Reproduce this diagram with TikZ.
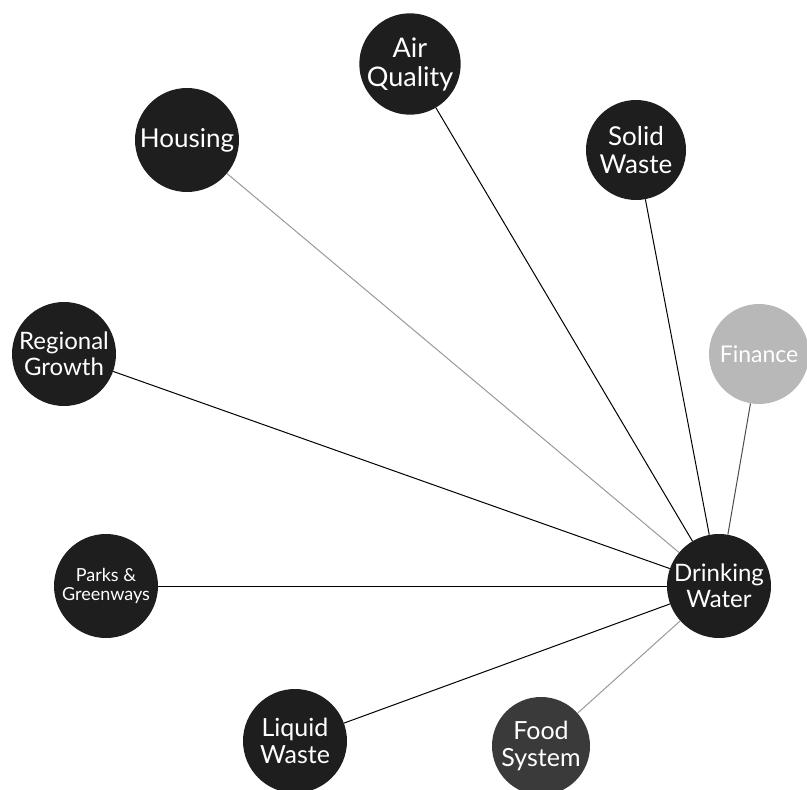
\documentclass[tikz,border=0pt]{standalone}
\usepackage{fontspec}
\setmainfont{Lato}
\usepackage{tikz}
\usetikzlibrary{shapes.geometric, arrows}
\definecolor{disc}{HTML}{1E1E1E}
\definecolor{discpale}{HTML}{B8B8B8}
\definecolor{discgrey}{HTML}{3A3A3A}
\tikzstyle{topic} = [circle, minimum size=104pt, inner sep=0pt, fill=disc, text=white, align=center, font=\fontsize{25}{27}\selectfont]
\tikzstyle{topicsmall} = [topic, font=\fontsize{18}{19}\selectfont]
\tikzstyle{link} = [line width=1pt, draw=black]
\tikzstyle{linklight} = [line width=1pt, draw=gray!80]

\begin{document}
\begin{tikzpicture}[x=1pt, y=-1pt]
      \useasboundingbox (0,0) rectangle (807,790);

      \node (water)    [topic, font=\fontsize{24}{26}\selectfont] at (719,586) {Drinking\\Water};

      \node (air)      [topic, minimum size=96pt, font=\fontsize{27}{29}\selectfont] at (410,64) {Air\\Quality};
      \node (housing)  [topic, font=\fontsize{26}{28}\selectfont] at (187,140) {Housing};
      \node (solid)    [topic, minimum size=100pt, font=\fontsize{26}{28}\selectfont] at (636,150) {Solid\\Waste};
      \node (growth)   [topic, font=\fontsize{24}{26}\selectfont] at (64,354)  {Regional\\Growth};
      \node (finance)  [topic, fill=discpale, minimum size=100pt, font=\fontsize{23}{25}\selectfont] at (759,354) {Finance};
      \node (parks)    [topicsmall]                              at (106,586) {Parks \&\\Greenways};
      \node (liquid)   [topic]                                   at (295,741) {Liquid\\Waste};
      \node (food)     [topic, fill=discgrey, minimum size=98pt] at (541,746) {Food\\System};

      \draw [link]      (air)     -- (water);
      \draw [linklight] (housing) -- (water);
      \draw [link]      (solid)   -- (water);
      \draw [link]      (growth)  -- (water);
      \draw [link, draw=black!70] (finance) -- (water);
      \draw [link]      (parks)   -- (water);
      \draw [link]      (liquid)  -- (water);
      \draw [linklight] (food)    -- (water);
    \end{tikzpicture}
\end{document}
